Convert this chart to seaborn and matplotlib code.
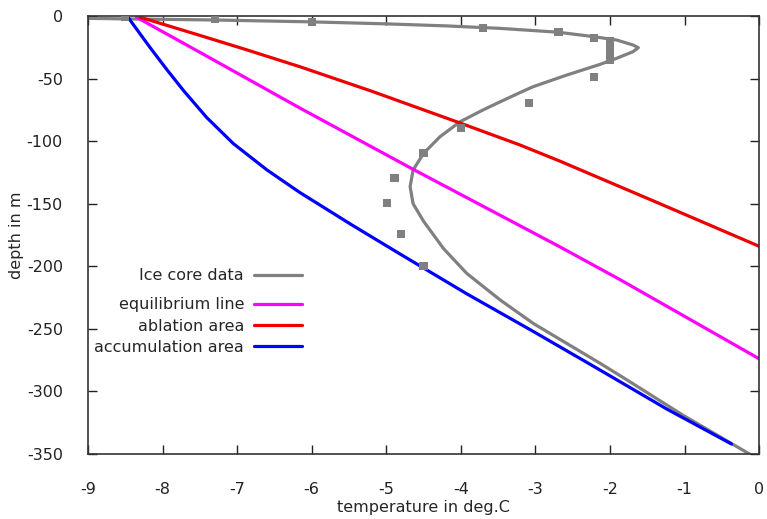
import numpy as np
import pandas as pd
import seaborn as sns
import matplotlib
matplotlib.use("Agg")
import matplotlib.pyplot as plt
from matplotlib.lines import Line2D

# ice core measurements (temperature deg.C, depth m)
core_temp = [-8.5, -7.3, -6.0, -3.7, -2.69, -2.21, -2.0, -2.0, -2.0, -2.0,
             -2.21, -3.09, -4.0, -4.5, -4.89, -4.99, -4.8, -4.5]
core_depth = [-0.8, -2.6, -4.7, -9.6, -13, -17.3, -20, -25, -30, -35,
              -48.5, -69.8, -89.8, -109.5, -129.7, -149.7, -174.5, -200]

# curve through the ice core data
fit_temp = [-9.0, -8.5, -7.3, -6.0, -5.0, -4.2, -3.47, -2.69, -2.22, -1.91,
            -1.69, -1.62, -1.69, -1.91, -2.13, -2.58, -3.03, -3.21, -3.47,
            -3.70, -4.01, -4.28, -4.50, -4.64, -4.68, -4.64, -4.50, -4.23,
            -3.92, -3.47, -3.03, -2.58, -2.13, -1.78, -1.02, -0.1]
fit_depth = [-1.9, -2.3, -3.2, -4.7, -6.3, -7.9, -9.9, -13, -16.5, -19.2,
             -23.2, -25.3, -28.5, -33.8, -38.6, -47.2, -56.5, -61.3, -68.5,
             -75, -84.5, -96.5, -109.8, -123.1, -136.4, -150, -164, -186,
             -205.7, -227, -245.6, -261.6, -277.6, -290.5, -319, -351]

eq_temp = [-8.35, -7.5, -6.16, -4.64, -3.21, -2.67, -1.87, -0.04, 0.0]
eq_depth = [-1, -29, -73.5, -122.5, -167.5, -184.5, -210.5, -272.5, -274]

abl_temp = [-8.30, -7.5, -6.9, -6.16, -5.2, -4.01, -3.21, -2.67, -1.33, 0.0]
abl_depth = [-1, -15.5, -26.5, -40.5, -60, -85.5, -103, -116, -150, -184]

acc_temp = [-8.46, -8.17, -7.94, -7.72, -7.41, -7.05, -6.6, -6.16, -5.46,
            -4.82, -3.92, -3.03, -2.13, -1.24, -0.37]
acc_depth = [-1.3, -25, -43, -59.5, -81, -102, -123, -141, -167,
             -190, -222, -252, -283, -314, -342]

sns.set_style("ticks")
plt.rcParams["font.family"] = ["DejaVu Sans"]
plt.rcParams["axes.unicode_minus"] = False

fs = 11.5
fig = plt.figure(figsize=(7.67, 5.19), dpi=100)
ax = fig.add_axes([0.1147, 0.1252, 0.875, 0.844])

lw = 2.3
colors = {"fit": "#808080", "eq": "#ff00ff", "abl": "#ee0000", "acc": "#0000ff"}
sns.lineplot(x=fit_temp, y=fit_depth, sort=False, estimator=None, color=colors["fit"],
             lw=lw, ax=ax, legend=False)
sns.lineplot(x=eq_temp, y=eq_depth, sort=False, estimator=None, color=colors["eq"],
             lw=lw, ax=ax, legend=False)
sns.lineplot(x=abl_temp, y=abl_depth, sort=False, estimator=None, color=colors["abl"],
             lw=lw, ax=ax, legend=False)
sns.lineplot(x=acc_temp, y=acc_depth, sort=False, estimator=None, color=colors["acc"],
             lw=lw, ax=ax, legend=False)
sns.scatterplot(x=core_temp, y=core_depth, marker="s", s=34, color="#808080",
                edgecolor="none", ax=ax, zorder=5, legend=False)

ax.set_xlim(-9, 0)
ax.set_ylim(-350, 0)
ax.set_xticks(np.arange(-9, 1, 1))
ax.set_yticks(np.arange(-350, 1, 50))
ax.tick_params(direction="in", length=6.5, width=1, top=True, right=True,
               labelsize=fs, colors="#222222")
ax.tick_params(axis="x", pad=20)
ax.tick_params(axis="y", pad=18)
for s in ax.spines.values():
    s.set_visible(True)
    s.set_linewidth(1.2)
    s.set_color("#333333")
ax.set_xlabel("temperature in deg.C", fontsize=fs, labelpad=2)
ax.set_ylabel("depth in m", fontsize=fs, labelpad=2)

common = dict(frameon=False, markerfirst=False, fontsize=fs, handlelength=3.0,
              handletextpad=0.63, borderpad=0, borderaxespad=0, alignment="right",
              loc="upper right")
h_fit = [Line2D([], [], color=colors["fit"], lw=lw)]
leg1 = ax.legend(h_fit, ["Ice core data"], bbox_to_anchor=(0.319, 0.424), **common)
ax.add_artist(leg1)
h_rest = [Line2D([], [], color=colors[k], lw=lw) for k in ["eq", "abl", "acc"]]
ax.legend(h_rest, ["equilibrium line", "ablation area", "accumulation area"],
          bbox_to_anchor=(0.319, 0.358), labelspacing=0.4, **common)

fig.savefig("out.png", dpi=100)
